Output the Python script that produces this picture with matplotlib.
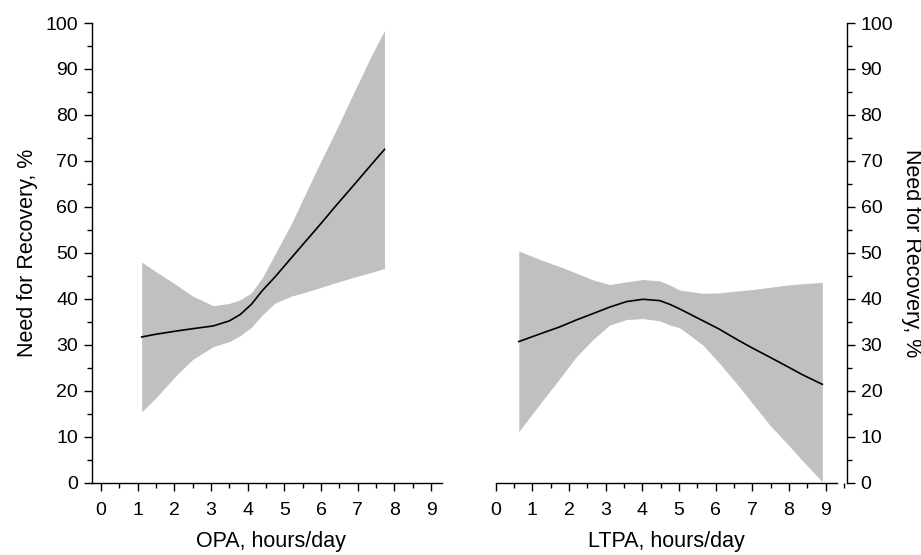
import matplotlib
matplotlib.use("Agg")
import matplotlib.pyplot as plt
from matplotlib.ticker import MultipleLocator

plt.rcParams["font.family"] = ["Liberation Sans", "DejaVu Sans"]

# OPA panel (left): fitted curve and 95% CI band
opa_x = [1.11, 1.5, 2.06, 2.5, 3.06, 3.5, 3.8, 4.1, 4.4, 4.75, 5.2, 5.6, 6.0, 6.4, 6.9, 7.35, 7.73]
opa_fit = [31.7, 32.3, 33.0, 33.5, 34.1, 35.2, 36.6, 38.8, 41.8, 44.8, 49.0, 52.7, 56.4, 60.2, 64.8, 69.0, 72.5]
opa_lo = [15.4, 18.5, 23.4, 26.8, 29.6, 30.7, 32.0, 33.8, 36.5, 39.1, 40.6, 41.5, 42.5, 43.5, 44.7, 45.7, 46.6]
opa_hi = [48.0, 45.9, 43.0, 40.6, 38.5, 39.0, 39.8, 41.3, 44.6, 49.8, 56.5, 63.3, 70.0, 76.5, 85.0, 92.5, 98.4]

# LTPA panel (right)
ltpa_x = [0.63, 1.29, 1.75, 2.2, 2.66, 3.11, 3.57, 4.02, 4.48, 4.75, 5.02, 5.66, 6.1, 6.57, 7.0, 7.48, 7.95, 8.39, 8.91]
ltpa_fit = [30.7, 32.6, 33.9, 35.4, 36.8, 38.2, 39.4, 39.9, 39.6, 38.8, 37.8, 35.2, 33.4, 31.2, 29.3, 27.3, 25.3, 23.4, 21.4]
ltpa_lo = [11.1, 18.0, 22.7, 27.4, 31.2, 34.3, 35.5, 35.7, 35.2, 34.3, 33.7, 29.9, 26.0, 21.6, 17.3, 12.5, 8.5, 4.6, 0.2]
ltpa_hi = [50.4, 48.3, 47.0, 45.6, 44.1, 43.1, 43.7, 44.2, 43.9, 43.0, 41.9, 41.2, 41.3, 41.7, 42.0, 42.5, 43.0, 43.3, 43.6]

x_ticks = list(range(0, 10))
y_ticks = list(range(0, 101, 10))
y_label = "Need for Recovery, %"

W, H = 921, 555
fig = plt.figure(figsize=(W / 100, H / 100), dpi=100)

# axes boxes in pixels: left edge, right edge, top, bottom
top_px, bot_px = 23, 482.7
ax1 = fig.add_axes([92 / W, 1 - bot_px / H, (441.7 - 92) / W, (bot_px - top_px) / H])
ax2 = fig.add_axes([495.7 / W, 1 - bot_px / H, (846.7 - 495.7) / W, (bot_px - top_px) / H])

band_col = "#c0c0c0"
for ax, x, fit, lo, hi in [(ax1, opa_x, opa_fit, opa_lo, opa_hi),
                           (ax2, ltpa_x, ltpa_fit, ltpa_lo, ltpa_hi)]:
    ax.fill_between(x, lo, hi, color=band_col, linewidth=0)
    ax.plot(x, fit, color="black", lw=1.2)
    ax.set_ylim(0, 100)
    ax.set_xticks(x_ticks)
    ax.set_yticks(y_ticks)
    ax.xaxis.set_minor_locator(MultipleLocator(0.5))
    ax.yaxis.set_minor_locator(MultipleLocator(5))
    ax.tick_params(which="major", length=6, width=1.0, labelsize=14)
    ax.tick_params(which="minor", length=3.5, width=1.0)
    ax.tick_params(axis="x", pad=8)
    ax.tick_params(axis="y", pad=4)
    ax.spines["top"].set_visible(False)
    for s in ax.spines.values():
        s.set_linewidth(1.0)

ax1.set_xlim(-0.245, 9.29)
ax1.spines["right"].set_visible(False)
ax1.set_xlabel("OPA, hours/day", fontsize=15.5)
ax1.xaxis.set_label_coords(0.511, -0.106)
ax1.set_ylabel(y_label, fontsize=15.5)
ax1.yaxis.set_label_coords(-0.155, 0.5)

ax2.set_xlim(0, 9.575)
ax2.spines["left"].set_visible(False)
ax2.spines["bottom"].set_bounds(0, 9.3)
ax2.yaxis.tick_right()
ax2.yaxis.set_label_position("right")
ax2.set_xlabel("LTPA, hours/day", fontsize=15.5)
ax2.xaxis.set_label_coords(0.486, -0.106)
ax2.set_ylabel(y_label, fontsize=15.5, rotation=270, va="bottom")
ax2.yaxis.set_label_coords(1.155, 0.5)

fig.savefig("out.png", dpi=100)
